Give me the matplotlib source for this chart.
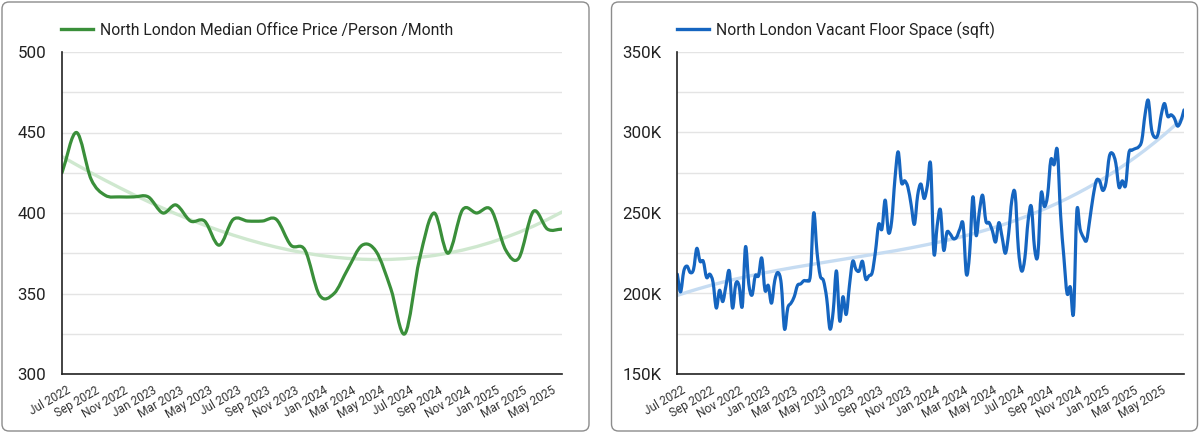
import numpy as np
import pandas as pd
import matplotlib
matplotlib.use('Agg')
import matplotlib.pyplot as plt
import matplotlib.dates as mdates
from matplotlib.path import Path
from matplotlib.patches import PathPatch, FancyBboxPatch
from matplotlib.lines import Line2D
from matplotlib.ticker import MultipleLocator, FuncFormatter
from matplotlib.transforms import ScaledTranslation, IdentityTransform

# ---------------- data ----------------
price_label = "North London Median Office Price /Person /Month"
price_months = pd.date_range('2022-07-01', '2025-06-01', freq='MS')
price_values = [425, 450, 421, 411, 410, 410, 410, 400, 405, 395, 395, 380,
                396, 395, 395, 396, 380, 377, 349, 350, 365, 380, 376, 353,
                325, 371, 400, 375, 402, 400, 402, 377, 372, 401, 390, 390]

vacant_label = "North London Vacant Floor Space (sqft)"
vacant_weeks = pd.date_range('2022-07-01', periods=157, freq='7D')
vacant_k = [212, 201, 214, 217, 213, 215, 228, 220, 220, 210,
            212, 207, 191, 202, 195, 205, 214, 191, 206, 205,
            192, 229, 206, 199, 211, 211, 222, 202, 205, 194,
            208, 213, 206, 178, 191, 194, 198, 205, 206, 208,
            208, 212, 250, 226, 211, 208, 197, 178, 189, 214,
            183, 198, 187, 205, 220, 215, 214, 220, 209, 211,
            213, 226, 243, 240, 258, 238, 245, 271, 288, 269,
            270, 266, 255, 243, 261, 268, 259, 267, 280, 225,
            242, 252, 227, 238, 237, 234, 235, 240, 243, 212,
            225, 260, 236, 251, 261, 245, 244, 239, 232, 244,
            235, 225, 237, 258, 262, 228, 214, 222, 245, 254,
            228, 224, 262, 254, 261, 283, 280, 289, 249, 223,
            200, 204, 188, 251, 240, 235, 233, 246, 260, 270,
            270, 264, 269, 285, 287, 281, 266, 270, 267, 287,
            289, 290, 291, 295, 311, 320, 302, 297, 299, 311,
            318, 310, 311, 309, 304, 307, 314]

plt.rcParams['font.family'] = ['Roboto', 'DejaVu Sans']
TXT = '#222222'
GRID = '#e4e4e4'


def smooth_path(x, y):
    """Catmull-Rom style curve through the data points, drawn as a Bezier path."""
    x = np.asarray(x, float)
    y = np.asarray(y, float)
    h = np.diff(x)
    m = np.zeros_like(y)
    m[0] = (y[1] - y[0]) / h[0]
    m[-1] = (y[-1] - y[-2]) / h[-1]
    m[1:-1] = (y[2:] - y[:-2]) / (x[2:] - x[:-2])
    verts = [(x[0], y[0])]
    codes = [Path.MOVETO]
    for i in range(len(x) - 1):
        verts += [(x[i] + h[i] / 3, y[i] + m[i] * h[i] / 3),
                  (x[i + 1] - h[i] / 3, y[i + 1] - m[i + 1] * h[i] / 3),
                  (x[i + 1], y[i + 1])]
        codes += [Path.CURVE4] * 3
    return Path(verts, codes)


fig = plt.figure(figsize=(12.01, 4.34), dpi=100)
fig.patch.set_facecolor('white')

# cards
for (x0, x1) in [(2, 589), (611.5, 1197.5)]:
    card = FancyBboxPatch((x0, 3), x1 - x0, 429,
                          boxstyle='round,pad=0,rounding_size=7',
                          transform=IdentityTransform(),
                          facecolor='none', edgecolor='#8c8c8c', lw=1.0, zorder=-10)
    fig.patches.append(card)

ax1 = fig.add_axes([62 / 1201, 60 / 434, 500 / 1201, 322 / 434])
ax2 = fig.add_axes([677.3 / 1201, 60 / 434, 506.7 / 1201, 322 / 434])
for a in (ax1, ax2):
    a.patch.set_alpha(0)


def style_axes(ax, xd, ylim, major, minor, fmt=None):
    ax.set_xlim(xd[0], xd[-1])
    ax.set_ylim(*ylim)
    ax.yaxis.set_major_locator(MultipleLocator(major))
    ax.yaxis.set_minor_locator(MultipleLocator(minor))
    if fmt is not None:
        ax.yaxis.set_major_formatter(fmt)
    ax.xaxis.set_major_locator(mdates.MonthLocator(bymonth=[1, 3, 5, 7, 9, 11]))
    ax.xaxis.set_major_formatter(mdates.DateFormatter('%b %Y'))
    ax.xaxis.set_minor_locator(mdates.MonthLocator(bymonth=[1, 7]))
    ax.grid(axis='y', which='both', color=GRID, lw=1.0, zorder=0)
    ax.grid(axis='x', which='minor', color=GRID, lw=1.0, zorder=0)
    ax.grid(axis='x', which='major', visible=False)
    ax.set_axisbelow(True)
    ax.tick_params(which='both', length=0)
    ax.tick_params(axis='y', pad=11.5, labelsize=12.2, labelcolor=TXT)
    ax.tick_params(axis='x', pad=7, labelsize=8.6, labelcolor='#333333')
    for s in ['top', 'right']:
        ax.spines[s].set_visible(False)
    for s in ['left', 'bottom']:
        ax.spines[s].set_color('#222222')
        ax.spines[s].set_linewidth(1.2)
        ax.spines[s].set_zorder(5)
    off = ScaledTranslation(4 / 100, 0, fig.dpi_scale_trans)
    for lab in ax.get_xticklabels():
        lab.set_rotation(30)
        lab.set_ha('right')
        lab.set_va('top')
        lab.set_rotation_mode('anchor')
        lab.set_transform(lab.get_transform() + off)


def draw_series(ax, dates, values, color, trend_color, label, lx):
    xd = mdates.date2num(dates)
    vals = np.asarray(values, float)
    coef = np.polyfit(xd - xd[0], vals, 3)
    ax.plot(xd, np.polyval(coef, xd - xd[0]), color=trend_color, lw=2.4,
            solid_capstyle='round', zorder=2)
    ax.add_patch(PathPatch(smooth_path(xd, vals), facecolor='none', edgecolor=color,
                           lw=2.3, capstyle='round', joinstyle='round', zorder=3))
    handle = Line2D([], [], color=color, lw=2.4)
    ax.legend([handle], [label], loc='center left', bbox_to_anchor=(lx, 1.0683),
              frameon=False, fontsize=11.35, handlelength=2.0, handletextpad=0.45,
              borderpad=0, borderaxespad=0, labelcolor=TXT)
    return xd


xd1 = draw_series(ax1, price_months, price_values, '#3a8f3a', '#cfe8cf', price_label, -0.002)
style_axes(ax1, xd1, (300, 500), 50, 25)

xd2 = draw_series(ax2, vacant_weeks, vacant_k, '#1565c0', '#c6dcf2', vacant_label, 0.0)
style_axes(ax2, xd2, (150, 350), 50, 25, FuncFormatter(lambda v, p: f'{v:.0f}K'))

fig.savefig('out.png', dpi=100, facecolor='white')
